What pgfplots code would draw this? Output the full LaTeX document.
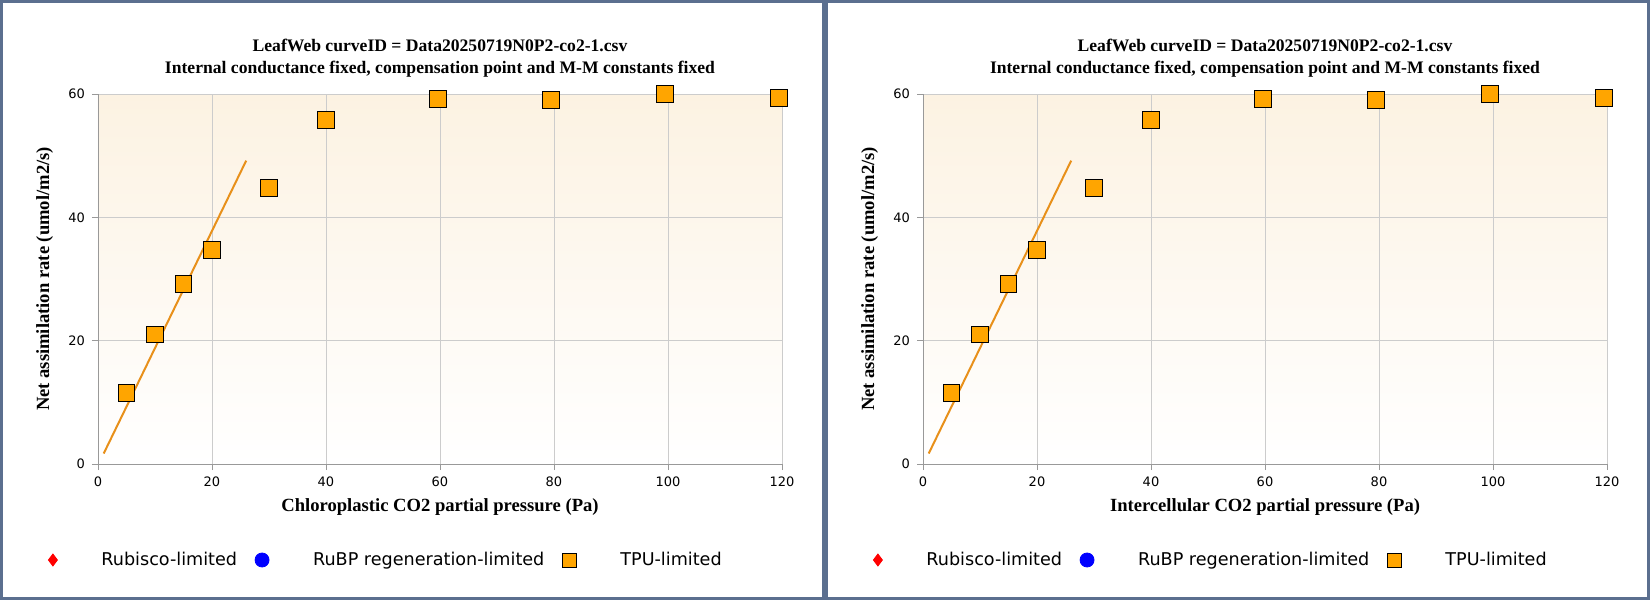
\documentclass[border=0pt]{standalone}
\usepackage{pgfplots}
\pgfplotsset{compat=1.18}
\usepackage{fontspec}
\setmainfont{Liberation Serif}
\newfontfamily\vfont{DejaVu Sans}
\definecolor{frame}{HTML}{5B6F8F}
\definecolor{tpu}{HTML}{FFA500}
\definecolor{fitline}{HTML}{E8901A}
\definecolor{cream}{HTML}{FCF2E2}
\newcommand{\panel}[2]{%
\begin{axis}[at={(#1+49pt,68pt)}, anchor=south west, scale only axis,
  width=342pt, height=185pt, xmin=0, xmax=120, ymin=0, ymax=60,
  xtick={0,20,...,120}, ytick={0,20,40,60},
  axis x line=bottom, axis y line=left, axis line style={-, draw=gray!80},
  tick align=outside, major tick length=3pt, tick style={gray!80},
  grid=major, grid style={gray!40},
  axis background/.style={top color=cream, bottom color=white},
  ticklabel style={font=\vfont\fontsize{6.5}{7}\selectfont},
  /pgf/number format/assume math mode=true,
  xlabel={\bfseries #2}, ylabel={\bfseries Net assimilation rate (umol/m2/s)},
  label style={font=\fontsize{9.3}{10}\selectfont},
  xlabel style={at={(axis description cs:0.5,0)}, anchor=north, yshift=-14pt},
  ylabel style={at={(axis description cs:-0.078,0.5)}, anchor=center},
  legend columns=3,
  legend style={draw=none, fill=none, at={([xshift=-28pt,yshift=-48pt]axis description cs:0,0)}, anchor=west,
    font=\vfont\fontsize{8.8}{10}\selectfont,
    /tikz/every even column/.append style={column sep=7pt},
    /tikz/every odd column/.append style={column sep=20pt}},
  legend cell align=left, clip=false]
\addlegendimage{only marks, mark=diamond*, mark size=3pt, red}
\addlegendentry{Rubisco-limited}
\addlegendimage{only marks, mark=*, mark size=3.5pt, blue}
\addlegendentry{RuBP regeneration-limited}
\addlegendimage{only marks, mark=square*, mark size=3.5pt, draw=black, fill=tpu}
\addlegendentry{TPU-limited}
\addplot[fitline, line width=1pt, forget plot] coordinates {(1,1.7) (26,49.2)};
\addplot[only marks, mark=square*, mark size=4.2pt, mark options={draw=black, fill=tpu, line width=0.5pt}, forget plot]
 coordinates {(5,11.5) (10,21) (15,29.2) (20,34.7) (30,44.8) (40,55.8) (59.6,59.2) (79.5,59) (99.5,60) (119.5,59.4)};
\end{axis}
\node[font=\bfseries\fontsize{8.8}{10.5}\selectfont, align=center] at (#1+220pt,271pt)
 {LeafWeb curveID = Data20250719N0P2-co2-1.csv\\[0.5pt]Internal conductance fixed, compensation point and M-M constants fixed};
\draw[frame, line width=1.5pt] (#1+0.75pt,0.75pt) rectangle (#1+411.75pt,299.25pt);
}
\begin{document}
\begin{tikzpicture}
\useasboundingbox (0,0) rectangle (825pt,300pt);
\panel{0pt}{Chloroplastic CO2 partial pressure (Pa)}
\panel{412.5pt}{Intercellular CO2 partial pressure (Pa)}
\end{tikzpicture}
\end{document}
